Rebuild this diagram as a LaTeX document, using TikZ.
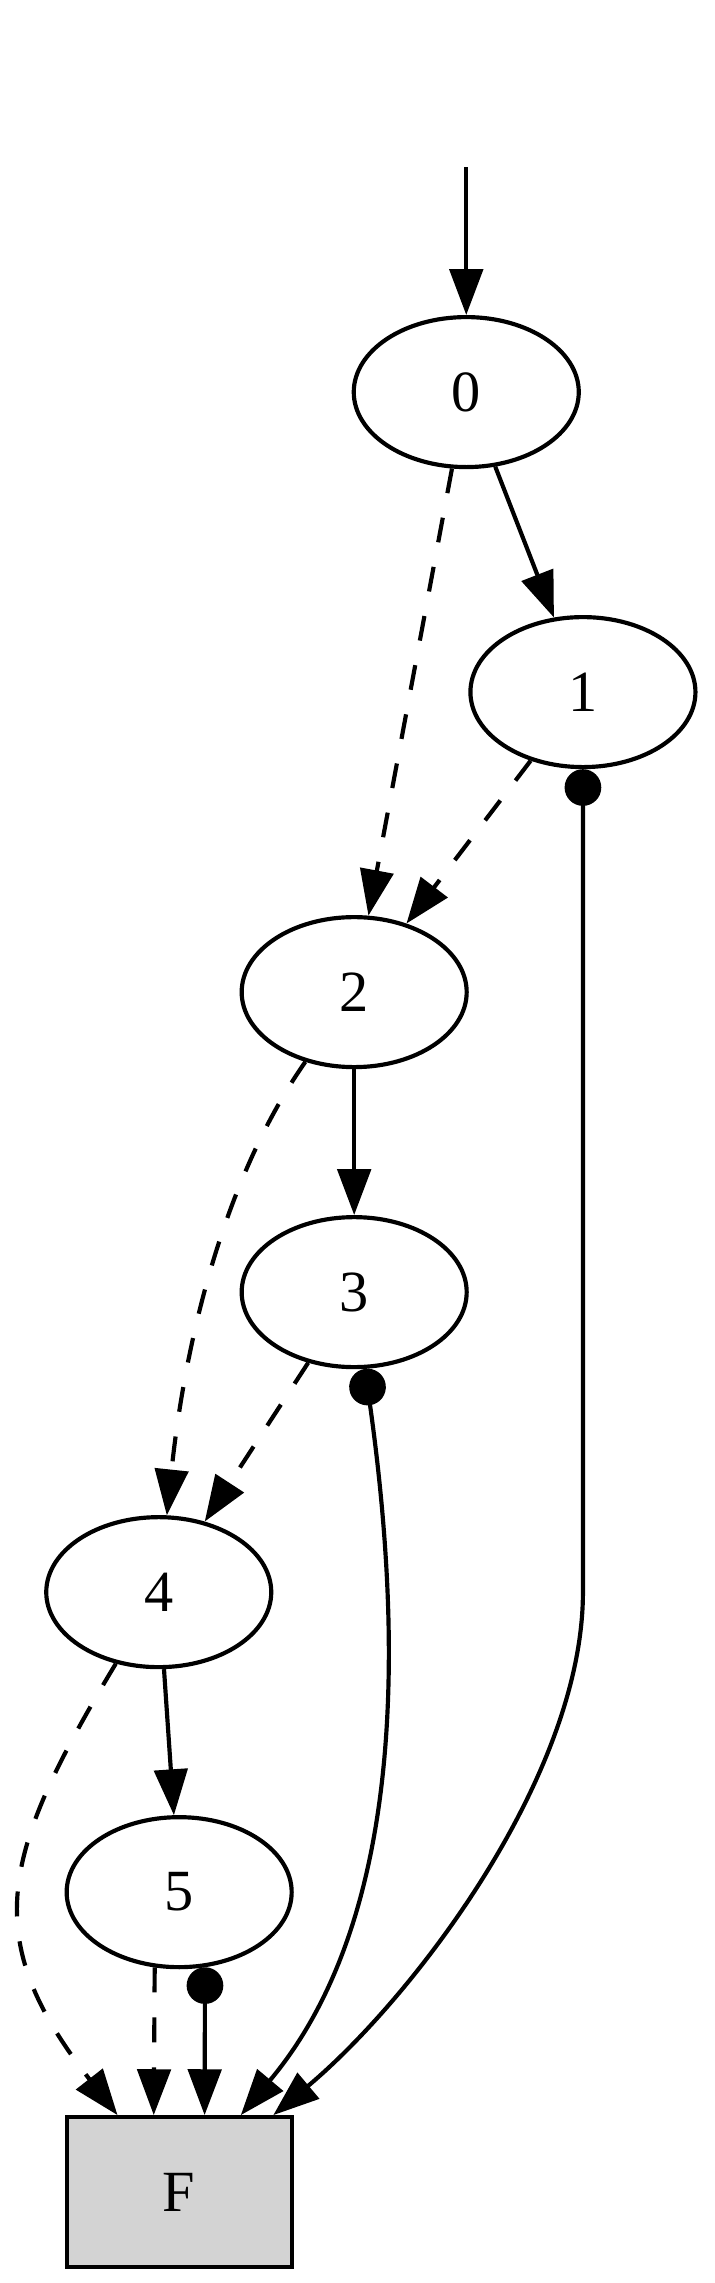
\documentclass[tikz,border=0pt]{standalone}
\usepackage{fontspec}
\setmainfont{Liberation Serif}
\usetikzlibrary{arrows.meta,shapes.geometric}
\definecolor{termgray}{HTML}{D3D3D3}

\begin{document}
\begin{tikzpicture}[>={Triangle[length=11pt,width=8pt]}, line width=1pt, node distance=72pt,
    bdd/.style={ellipse, draw, minimum width=54pt, minimum height=36pt, inner sep=0pt, font=\fontsize{14pt}{16pt}\selectfont},
    term/.style={rectangle, draw, fill=termgray, minimum width=54pt, minimum height=36pt, inner sep=0pt, font=\fontsize{14pt}{16pt}\selectfont},
    lo/.style={dash pattern=on 6pt off 6pt},
    comp/.style={{Circle[length=8.8pt]}->}]
    \useasboundingbox (-111.9pt,94.1pt) rectangle (59.5pt,-453.8pt);
    % Nodes {0, 1, 2, 3, 4, 5, F}
    \node [bdd]  (n0)                                 {0};
    \node [bdd]  (n1) [below of=n0, xshift=28pt]      {1};
    \node [bdd]  (n2) [below of=n1, xshift=-54.9pt]   {2};
    \node [bdd]  (n3) [below of=n2]                   {3};
    \node [bdd]  (n4) [below of=n3, xshift=-46.9pt]   {4};
    \node [bdd]  (n5) [below of=n4, xshift=4.9pt]     {5};
    \node [term] (F)  [below of=n5]                   {F};
    \node [coordinate] (init) [node distance=54pt, above of=n0] {};

    % Paths
    \path [->]      (init) edge (n0)
                    (n0) edge (n1)
                    (n2) edge (n3)
                    (n4) edge (n5);
    \path [->, lo]  (n0) edge (n2)
                    (n1) edge (n2)
                    (n3) edge (n4)
                    (n2) edge [out=-125, in=84, out distance=34pt, in distance=42pt] (n4)
                    (n4) edge [out=-121, in=128, distance=54pt] ([xshift=-14.8pt]F.north)
                    (n5.252) edge ([xshift=-6.1pt]F.north);
    \path [comp]    (n5.289) edge ([xshift=6.1pt]F.north)
                    (n3) edge [out=-82, in=50, out distance=105pt, in distance=40pt] ([xshift=14.8pt]F.north);
    \draw [comp]    (n1.south) -- (n1 |- n4) to [out=-90, in=40, distance=44pt] ([xshift=22.6pt]F.north);
\end{tikzpicture}
\end{document}
